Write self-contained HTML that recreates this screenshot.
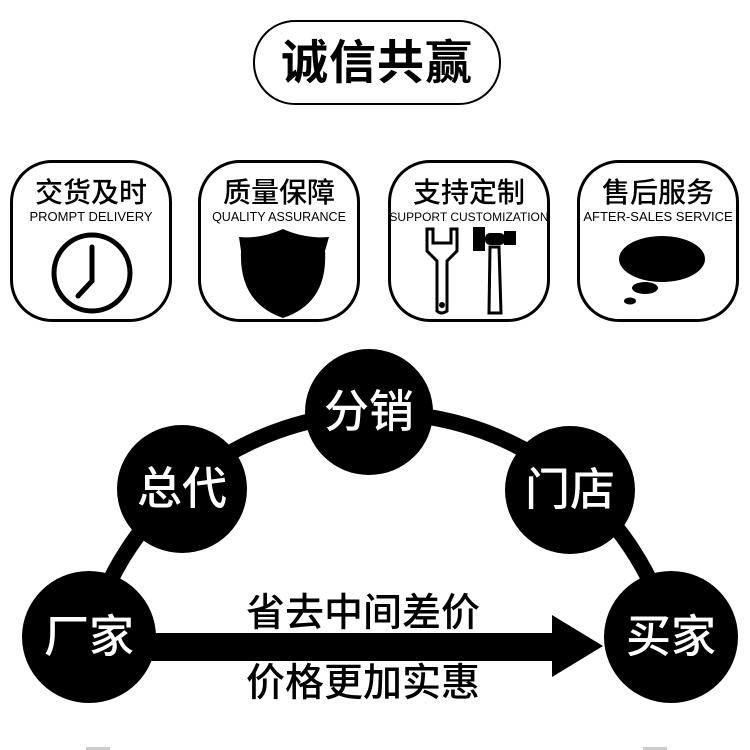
<!DOCTYPE html>
<html><head><meta charset="utf-8"><style>
body{margin:0;width:750px;height:750px;background:#fff;overflow:hidden;position:relative;font-family:"Liberation Sans","Noto Sans CJK SC",sans-serif}
.pill{position:absolute;left:253px;top:20px;width:244px;height:81px;border:2.5px solid #000;border-radius:42px;text-align:center;line-height:81px;font-size:47px;font-weight:bold;letter-spacing:1px}
.box{position:absolute;top:160px;width:156px;height:156px;border:3px solid #000;border-radius:42px;text-align:center}
.cn{position:absolute;top:14px;left:0;right:0;font-size:28px;line-height:32px;font-weight:500}
.en{position:absolute;top:46px;left:-6px;right:-6px;font-size:13px;line-height:16px;white-space:nowrap}
.box svg{position:absolute;left:0;top:0}
</style></head><body>
<div class="pill">诚信共赢</div>

<div class="box" style="left:10px"><div class="cn">交货及时</div><div class="en">PROMPT DELIVERY</div>
<svg width="156" height="156"><circle cx="79" cy="110" r="38" fill="none" stroke="#000" stroke-width="5"/><path d="M79,84 V118 L65,133" fill="none" stroke="#000" stroke-width="5" stroke-linecap="round"/></svg></div>

<div class="box" style="left:198px"><div class="cn">质量保障</div><div class="en" style="font-size:12.5px">QUALITY ASSURANCE</div>
<svg width="156" height="156"><path d="M38,74 Q60,76 82,66 Q104,76 128,74 L124,88 Q127,140 82,155 Q38,140 40,88 Z" fill="#000"/></svg></div>

<div class="box" style="left:388px"><div class="cn">支持定制</div><div class="en" style="font-size:12px">SUPPORT CUSTOMIZATION</div>
<svg width="156" height="156"><path d="M36,66 L36,88 L46,98 L46,148 Q50,152 56,148 L56,98 L66,88 L66,66 L60,66 L60,80 L42,80 L42,66 Z" fill="none" stroke="#000" stroke-width="3"/><circle cx="51" cy="142" r="3" fill="#000"/><rect x="82" y="64" width="12" height="24" fill="#000"/><rect x="94" y="70" width="20" height="12" rx="5" fill="#000"/><rect x="113" y="68" width="12" height="14" fill="#000"/><path d="M99,84 L98,150 L110,150 L108,84 Z" fill="none" stroke="#000" stroke-width="3"/></svg></div>

<div class="box" style="left:577px"><div class="cn">售后服务</div><div class="en">AFTER-SALES SERVICE</div>
<svg width="156" height="156"><ellipse cx="82" cy="96" rx="43" ry="23" fill="#000"/><ellipse cx="65" cy="125" rx="13" ry="6" fill="#000"/><ellipse cx="50" cy="138" rx="6" ry="3.5" fill="#000"/></svg></div>

<svg width="750" height="750" style="position:absolute;left:0;top:0">
<path d="M89,637 A301,301 0 0,1 671,637" fill="none" stroke="#000" stroke-width="16"/>
<rect x="150" y="633" width="404" height="28" fill="#000"/>
<polygon points="552,615 603,646 552,677" fill="#000"/>
<g fill="#000"><ellipse cx="89" cy="637" rx="67" ry="66"/><ellipse cx="182" cy="489" rx="65" ry="64"/><ellipse cx="369" cy="412" rx="64" ry="63"/><ellipse cx="570" cy="490" rx="65" ry="64"/><ellipse cx="671" cy="637" rx="67" ry="66"/></g>
<g fill="#fff" font-size="45" text-anchor="middle" font-family="Liberation Sans,Noto Sans CJK SC,sans-serif" font-weight="500">
<text x="89" y="652">厂家</text><text x="182" y="504">总代</text><text x="369" y="427">分销</text><text x="570" y="505">门店</text><text x="671" y="652">买家</text></g>
<g fill="#000" font-size="39" text-anchor="middle" font-family="Liberation Sans,Noto Sans CJK SC,sans-serif" font-weight="500">
<text x="363" y="626">省去中间差价</text><text x="363" y="696">价格更加实惠</text></g>
<rect x="86" y="747" width="24" height="3" fill="#ccc"/><rect x="643" y="747" width="24" height="3" fill="#ccc"/>
</svg>
</body></html>
